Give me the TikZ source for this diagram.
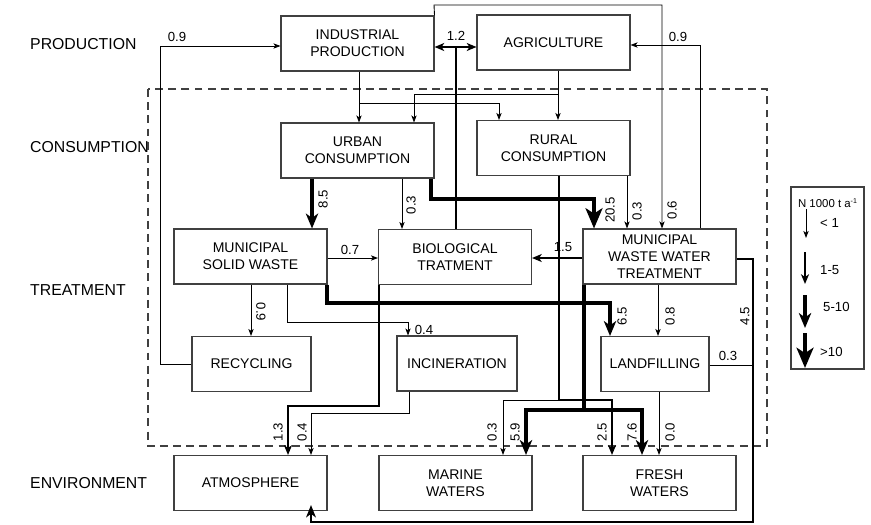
\documentclass[tikz,border=0pt]{standalone}
\usepackage{fontspec}
\setmainfont{Liberation Sans}
\usetikzlibrary{arrows.meta}

\begin{document}
\begin{tikzpicture}[x=0.02cm, y=-0.02cm,
        every node/.style={font=\fontsize{8}{9.5}\selectfont},
        box/.style={rectangle, draw=black!75, line width=0.6pt, minimum width=3.06cm, minimum height=1.1cm, align=center, inner sep=1pt},
        smallbox/.style={box, minimum width=#1},
        row/.style={anchor=west, font=\fontsize{9}{10}\selectfont},
        val/.style={font=\fontsize{7.5}{8}\selectfont, inner sep=0.5pt},
        thin arrow/.style={line width=0.5pt, -{Stealth[length=4pt, width=3pt, inset=1pt]}},
        mid arrow/.style={line width=1.3pt, -{Stealth[length=5.5pt, width=4.5pt, inset=1.5pt]}},
        thick arrow/.style={line width=2pt, -{Stealth[length=8.5pt, width=7pt, inset=2.5pt]}},
        huge arrow/.style={line width=2.8pt, -{Stealth[length=11.5pt, width=9.6pt, inset=3pt]}}
    ]
    \useasboundingbox (0,0) rectangle (871,524);
%
    % row titles
    \node[row] (tprod) at (24,44) {PRODUCTION};
    \node[row] (tcons) at (24,147) {CONSUMPTION};
    \node[row] (ttreat) at (24,290) {TREATMENT};
    \node[row] (tenv) at (24,483) {ENVIRONMENT};
%
    \draw[black!75, line width=0.6pt, dash pattern=on 4.5pt off 3pt] (148,89) rectangle (767,446);
%
    \node[box] (ind) at (357.5,43.5) {INDUSTRIAL\\PRODUCTION};
    \node[box] (agr) at (553.5,42.5) {AGRICULTURE};
    \node[box] (urb) at (357.5,150.5) {URBAN\\CONSUMPTION};
    \node[box] (rur) at (553.5,148) {RURAL\\CONSUMPTION};
    \node[box] (msw) at (250.5,256.5) {MUNICIPAL\\SOLID WASTE};
    \node[box] (bio) at (455,257) {BIOLOGICAL\\TRATMENT};
    \node[box] (mwwt) at (659.5,256.5) {MUNICIPAL\\WASTE WATER\\TREATMENT};
    \node[smallbox=2.38cm] (rec) at (251.5,364) {RECYCLING};
    \node[smallbox=2.4cm] (inc) at (457,363.5) {INCINERATION};
    \node[smallbox=2.16cm] (lan) at (655,364) {LANDFILLING};
    \node[box] (atm) at (250.5,483) {ATMOSPHERE};
    \node[box] (mar) at (455.5,483) {MARINE\\WATERS};
    \node[box] (fre) at (659.5,483) {FRESH\\WATERS};
%
    % production
    \draw[thin arrow] (rec.west) -| (160,46) -- (ind.west |- 160,46);
    \draw[thin arrow] (mwwt.north -| 700,0) |- (agr.east |- 0,45);
    \draw[thin arrow] (ind.north east) -- (434,5) -| (mwwt.north -| 662,0);
    \coordinate (j12) at (456,47);
    \draw[line width=1.3pt] (bio.north -| j12) -- (j12);
    \draw[mid arrow, {Stealth[length=5.5pt, width=4.5pt, inset=1.5pt]}-{Stealth[length=5.5pt, width=4.5pt, inset=1.5pt]}] (ind.east |- j12) -- (agr.west |- j12);
%
    % consumption
    \draw[thin arrow] (ind.south -| 359,0) -- (urb.north -| 359,0);
    \draw[thin arrow] (ind.south -| 359,0) |- (499,103) -- (rur.north -| 499,0);
    \draw[thin arrow] (agr.south -| 558,0) -- (rur.north -| 558,0);
    \draw[thin arrow] (agr.south -| 558,0) |- (414,94) -- (urb.north -| 414,0);
%
    % treatment
    \draw[thick arrow] (urb.south -| 312,0) -- (msw.north -| 312,0);
    \draw[thin arrow] (urb.south -| 402,0) -- (bio.north -| 402,0);
    \draw[huge arrow] (urb.south -| 431,0) |- (594,199) -- (mwwt.north -| 594,0);
    \draw[thin arrow] (rur.south -| 627,0) -- (mwwt.north -| 627,0);
    \draw[thin arrow] (msw.east |- 0,258) -- (bio.west |- 0,258);
    \draw[mid arrow] (mwwt.west |- 0,258) -- (bio.east |- 0,258);
    \draw[thin arrow] (msw.south -| 251,0) -- (rec.north -| 251,0);
    \draw[thin arrow] (msw.south -| 287,0) |- (408,322) -- (inc.north -| 408,0);
    \draw[thin arrow] (mwwt.south -| 658,0) -- (lan.north -| 658,0);
    \draw[thick arrow] (msw.south -| 327,0) |- (610,303) -- (lan.north -| 610,0);
%
    % environment
    \coordinate (j45) at (753,365);
    \draw[line width=0.5pt] (lan.east |- j45) -- (j45);
    \draw[line width=1.6pt, -{Stealth[length=7pt, width=5.5pt, inset=2pt]}] (mwwt.east |- 0,259) -| (753,522) -| ([yshift=0.12cm]atm.south -| 311,0);
    \draw[thin arrow] (rur.south -| 559,0) |- (503,400) -- (mar.north -| 503,0);
    \draw[mid arrow] (rur.south -| 559,0) -- (559,400) -| (fre.north -| 612,0);
    \draw[mid arrow] (bio.south -| 379,0) |- (288,406) -- (atm.north -| 288,0);
    \draw[thin arrow] (inc.south -| 409,0) |- (311,413) -- (atm.north -| 311,0);
    \draw[thick arrow] (mwwt.south -| 584,0) |- (526,410) -- (mar.north -| 526,0);
    \draw[thick arrow] (mwwt.south -| 584,0) |- (642,410) -- (fre.north -| 642,0);
    \draw[thin arrow] (lan.south -| 659,0) -- (fre.north -| 659,0);
%
    % flow values
    \node[val] (v1) at (177,37) {0.9};
    \node[val] (v2) at (678,37) {0.9};
    \node[val] (v3) at (456,36) {1.2};
    \node[val, rotate=90] (v4) at (672,210) {0.6};
    \node[val, rotate=90] (v5) at (323,199) {8.5};
    \node[val, rotate=90] (v6) at (411,205) {0.3};
    \node[val, rotate=90] (v7) at (610,210) {20.5};
    \node[val, rotate=90] (v8) at (637,211) {0.3};
    \node[val] (v9) at (350,250) {0.7};
    \node[val] (v10) at (563,247) {1.5};
    \node[val, rotate=-90] (v11) at (261,312) {0.9};
    \node[val] (v12) at (424,330) {0.4};
    \node[val, rotate=90] (v13) at (622,316) {6.5};
    \node[val, rotate=90] (v14) at (670,316) {0.8};
    \node[val, rotate=90] (v15) at (745,316) {4.5};
    \node[val] (v16) at (728,356) {0.3};
    \node[val, rotate=90] (v17) at (278,432) {1.3};
    \node[val, rotate=90] (v18) at (302,432) {0.4};
    \node[val, rotate=90] (v19) at (492,432) {0.3};
    \node[val, rotate=90] (v20) at (515,432) {5.9};
    \node[val, rotate=90] (v21) at (602,432) {2.5};
    \node[val, rotate=90] (v22) at (632,432) {7.6};
    \node[val, rotate=90] (v23) at (670,432) {0.0};
%
    % legend
    \node[draw=black!75, line width=0.6pt, minimum width=1.46cm, minimum height=3.64cm] (legend) at (827.5,278) {};
    \node[font=\fontsize{6.5}{7}\selectfont, inner sep=0pt] (lunit) at (827.5,203) {N 1000 t a\raisebox{0.6ex}{\fontsize{4}{4}\selectfont -1}};
    \draw[thin arrow] (806,209) -- (806,238);
    \draw[mid arrow] (805,252) -- (805,284);
    \draw[thick arrow] (805,295) -- (805,328);
    \draw[huge arrow] (805,333) -- (805,368);
    \node[val, anchor=west] (lg1) at (819,223) {< 1};
    \node[val, anchor=west] (lg2) at (819,270) {1-5};
    \node[val, anchor=west] (lg3) at (822,307) {5-10};
    \node[val, anchor=west] (lg4) at (819,352) {>10};
%
\end{tikzpicture}
\end{document}
